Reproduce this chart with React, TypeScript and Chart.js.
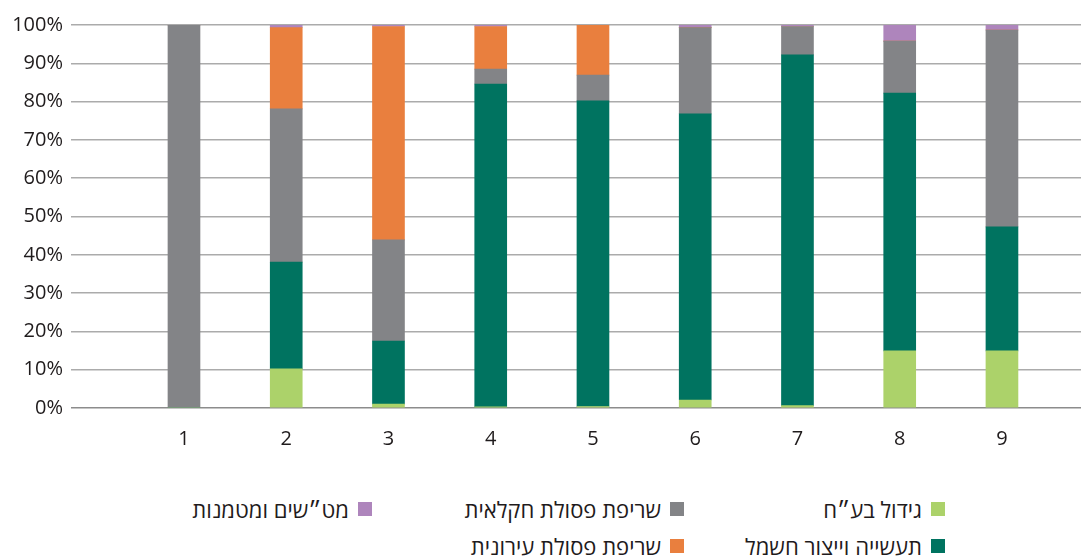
import React, { useEffect, useRef } from "react";
import { Chart, registerables } from "chart.js";

Chart.register(...registerables);

const CATEGORIES = ["1", "2", "3", "4", "5", "6", "7", "8", "9"];
const Y_TICK_STEP = 10;

// Stack order bottom to top
const LIVESTOCK = [0, 10.2, 1.0, 0.3, 0.4, 2.1, 0.6, 14.9, 14.9];
const INDUSTRY = [0, 27.9, 16.5, 84.3, 79.8, 74.7, 91.6, 67.3, 32.4];
const AGRI_BURN = [100, 40.0, 26.4, 3.9, 6.7, 22.5, 7.4, 13.6, 51.4];
const URBAN_BURN = [0, 21.2, 55.7, 11.1, 13.1, 0, 0, 0, 0];
const WASTE = [0, 0.7, 0.4, 0.4, 0, 0.7, 0.4, 4.2, 1.3];

const SERIES_LABELS = [
  "גידול בע״ח",
  "תעשייה וייצור חשמל",
  "שריפת פסולת חקלאית",
  "שריפת פסולת עירונית",
  "מט״שים ומטמנות",
];
const SERIES_VALUES = [LIVESTOCK, INDUSTRY, AGRI_BURN, URBAN_BURN, WASTE];
const SERIES_COLORS = ["#acd26a", "#007360", "#838487", "#e97f3e", "#ae85bc"];

// legend layout: [series index, right edge x, center y]
const LEGEND_LAYOUT: [number, number, number][] = [
  [0, 945, 509],
  [1, 945, 546],
  [2, 684, 509],
  [3, 684, 546],
  [4, 372, 509],
];

const TEXT_COLOR = "#1f1b1c";
const FONT_FAMILY = "'Open Sans', 'Liberation Sans', 'DejaVu Sans', sans-serif";

export default function App() {
  const ref = useRef<HTMLCanvasElement | null>(null);

  useEffect(() => {
    if (!ref.current) return;
    const chart = new Chart(ref.current, {
      type: "bar",
      data: {
        datasets: SERIES_LABELS.map((label, si) => ({
          label,
          data: SERIES_VALUES[si].map((v, i) => ({ x: i + 1, y: v })),
          backgroundColor: SERIES_COLORS[si],
          borderWidth: 0,
          barThickness: 32,
        })),
      },
      options: {
        animation: false,
        responsive: false,
        layout: { padding: { top: 25, left: 0, right: 0, bottom: 0 } },
        plugins: { legend: { display: false }, tooltip: { enabled: false } },
        scales: {
          x: {
            type: "linear",
            stacked: true,
            offset: false,
            min: -0.105,
            max: 9.773,
            grid: { display: false, drawTicks: false },
            border: { display: false },
            ticks: {
              padding: 19,
              color: TEXT_COLOR,
              font: { family: FONT_FAMILY, size: 20 },
              callback: (v: any) => CATEGORIES[Number(v) - 1] ?? "",
            },
            afterBuildTicks: (s: any) => {
              s.ticks = CATEGORIES.map((_, i) => ({ value: i + 1 }));
            },
            afterFit: (s: any) => {
              s.height = 62;
            },
          },
          y: {
            stacked: true,
            min: 0,
            max: 100,
            ticks: {
              stepSize: Y_TICK_STEP,
              padding: 8,
              color: TEXT_COLOR,
              font: { family: FONT_FAMILY, size: 20 },
              callback: (v: any) => v + "%",
            },
            grid: {
              drawTicks: false,
              lineWidth: 1.5,
              color: (ctx: any) => (ctx.tick && ctx.tick.value === 0 ? "#8c8c8c" : "#ababab"),
            },
            border: { display: false },
            afterFit: (s: any) => {
              s.width = 71;
            },
          },
        },
      },
    } as any);
    return () => chart.destroy();
  }, []);

  return (
    <div
      style={{
        position: "fixed",
        top: 0,
        left: 0,
        width: 1081,
        height: 558,
        background: "#fff",
        overflow: "hidden",
      }}
    >
      <canvas ref={ref} width={1081} height={470} style={{ position: "absolute", top: 0, left: 0 }} />
      {LEGEND_LAYOUT.map(([si, right, cy]) => (
        <div
          key={si}
          dir="rtl"
          style={{
            position: "absolute",
            right: 1081 - right,
            top: cy - 15,
            height: 30,
            display: "flex",
            alignItems: "center",
            gap: 9,
            fontFamily: FONT_FAMILY,
            fontSize: 22,
            color: TEXT_COLOR,
            whiteSpace: "nowrap",
          }}
        >
          <span style={{ width: 14, height: 14, background: SERIES_COLORS[si], display: "inline-block" }} />
          <span>{SERIES_LABELS[si]}</span>
        </div>
      ))}
    </div>
  );
}
